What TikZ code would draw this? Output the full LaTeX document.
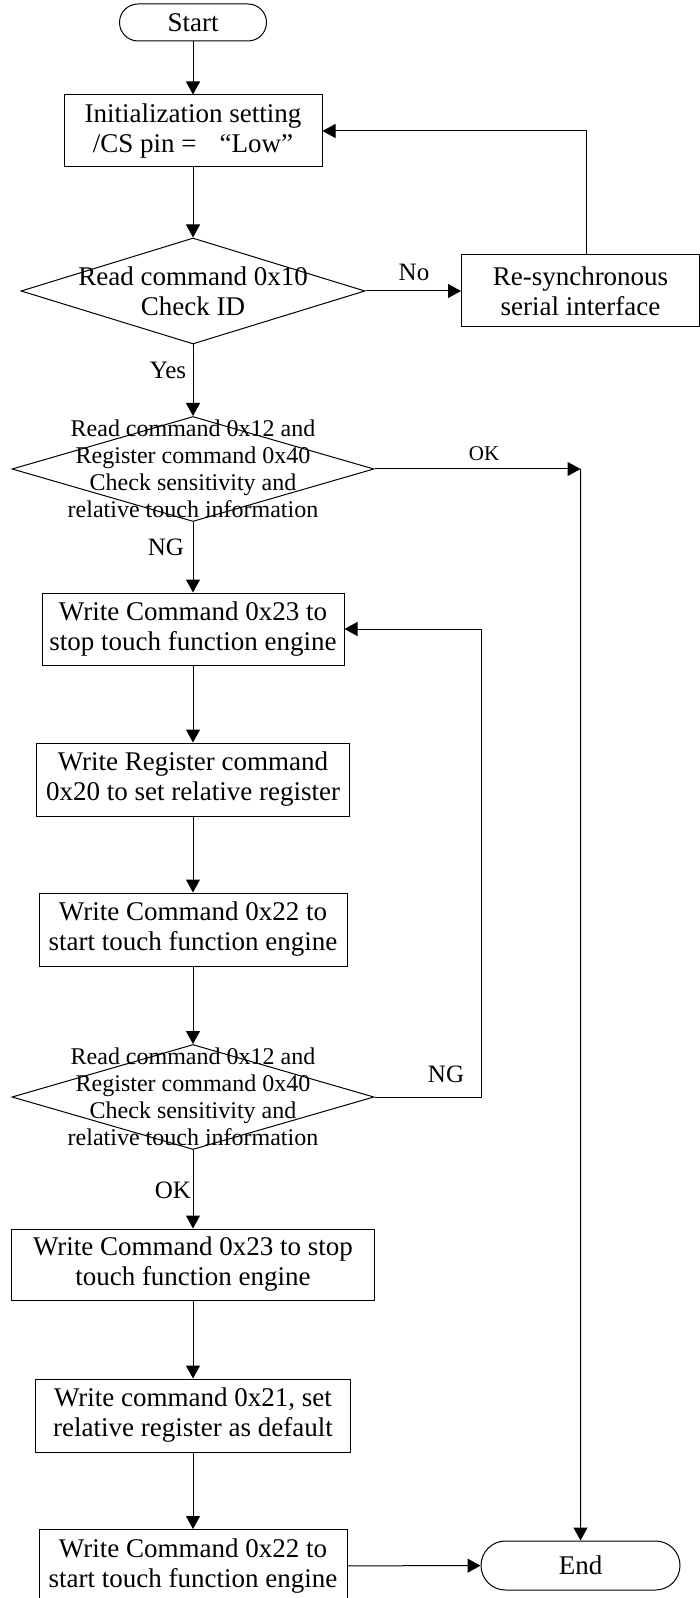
\documentclass[tikz,border=0pt]{standalone}
\usepackage{fontspec}
\setmainfont{Liberation Serif}
\usetikzlibrary{arrows.meta, shapes.geometric, shapes.misc}

\begin{document}
\begin{tikzpicture}[x=0.5pt, y=-0.5pt, line width=0.5pt,
  box/.style={draw, rectangle, align=center, inner sep=1pt, font=\fontsize{13.5}{15}\selectfont},
  pill/.style={draw, rounded rectangle, inner sep=1pt, font=\fontsize{13.5}{15}\selectfont},
  decide/.style={draw, diamond, inner sep=0pt},
  dtext/.style={align=center, inner sep=0pt, font=\fontsize{12}{13.5}\selectfont},
  lbl/.style={inner sep=0pt, font=\fontsize{12.5}{14}\selectfont},
  arr/.style={-{Triangle[length=6.5pt, width=7pt]}}]
  \useasboundingbox (0, 0) rectangle (700, 1598);

  \node[pill, minimum width=75.5pt, minimum height=18.5pt] (start) at (193, 22.5) {Start};
  \node[box, minimum width=129pt, minimum height=36pt] (init) at (193, 131) {Initialization setting\\/CS pin =\hspace{0.85em}“Low”};
  \node[decide, minimum width=172pt, minimum height=53pt] (d1) at (193, 291) {};
  \node[dtext, font=\fontsize{13.5}{15}\selectfont] (d1t) at (d1) {Read command 0x10\\Check ID};
  \node[box, minimum width=119pt, minimum height=36pt] (sync) at (580.5, 291) {Re-synchronous\\serial interface};

  \node[decide, minimum width=181pt, minimum height=52.5pt] (d2) at (193, 469) {};
  \node[dtext] (d2t) at (d2) {Read command 0x12 and\\Register command 0x40\\Check sensitivity and\\relative touch information};
  \coordinate (ok) at (580.5, 469);

  \node[box, minimum width=151pt, minimum height=36pt] (stop1) at (193, 629) {Write Command 0x23 to\\stop touch function engine};
  \node[box, minimum width=156.5pt, minimum height=36.5pt] (setreg) at (193, 779.5) {Write Register command\\0x20 to set relative register};
  \node[box, minimum width=154pt, minimum height=36.5pt] (start1) at (193, 929.5) {Write Command 0x22 to\\start touch function engine};

  \node[decide, minimum width=181pt, minimum height=52.5pt] (d3) at (193, 1097) {};
  \node[dtext] (d3t) at (d3) {Read command 0x12 and\\Register command 0x40\\Check sensitivity and\\relative touch information};
  \coordinate (ng) at (481, 1097);

  \node[box, minimum width=181.5pt, minimum height=35.5pt] (stop2) at (193, 1264.5) {Write Command 0x23 to stop\\touch function engine};
  \node[box, minimum width=157.5pt, minimum height=36.5pt] (defreg) at (193, 1415.5) {Write command 0x21, set\\relative register as default};
  \node[box, minimum width=154pt, minimum height=36.5pt] (start2) at (193, 1566) {Write Command 0x22 to\\start touch function engine};
  \node[pill, minimum width=101.5pt, minimum height=24.5pt] (end) at (580.5, 1565.5) {End};

  % branch labels
  \node[lbl] (no) at (414, 272) {No};
  \node[lbl] (yes) at (168, 370) {Yes};
  \node[lbl, font=\fontsize{10.5}{12}\selectfont] (okhi) at (484, 454) {OK};
  \node[lbl] (nghi) at (166, 547) {NG};
  \node[lbl] (nglo) at (446, 1074) {NG};
  \node[lbl] (oklo) at (173, 1190) {OK};

  \draw[arr] (start) -- (init);
  \draw[arr] (init) -- (d1);
  \draw[arr] (d1) -- (sync);
  \draw[arr] ([xshift=3pt]sync.north) |- (init.east);
  \draw[arr] (d1) -- (d2);
  \draw[arr] (d2) -- (ok);
  \draw[arr] (ok) -- (end);
  \draw[arr] (d2) -- (stop1);
  \draw[arr] (stop1) -- (setreg);
  \draw[arr] (setreg) -- (start1);
  \draw[arr] (start1) -- (d3);
  \draw[arr] (d3.east) -- (ng) |- (stop1.east);
  \draw[arr] (d3) -- (stop2);
  \draw[arr] (stop2) -- (defreg);
  \draw[arr] (defreg) -- (start2);
  \draw[arr] (start2) -- (end);
\end{tikzpicture}
\end{document}
